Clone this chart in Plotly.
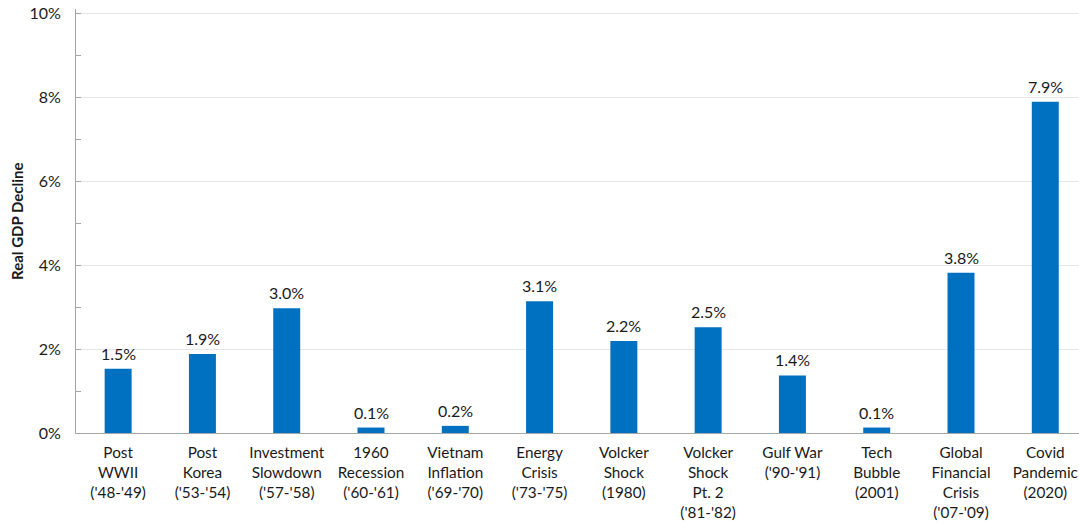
import plotly.graph_objects as go

categories = [
    "Post<br>WWII<br>('48-'49)",
    "Post<br>Korea<br>('53-'54)",
    "Investment<br>Slowdown<br>('57-'58)",
    "1960<br>Recession<br>('60-'61)",
    "Vietnam<br>Inflation<br>('69-'70)",
    "Energy<br>Crisis<br>('73-'75)",
    "Volcker<br>Shock<br>(1980)",
    "Volcker<br>Shock<br>Pt. 2<br>('81-'82)",
    "Gulf War<br>('90-'91)",
    "Tech<br>Bubble<br>(2001)",
    "Global<br>Financial<br>Crisis<br>('07-'09)",
    "Covid<br>Pandemic<br>(2020)",
]
gdp_decline = [1.53, 1.88, 2.97, 0.13, 0.17, 3.14, 2.19, 2.52, 1.37, 0.13, 3.82, 7.89]
bar_labels = ["1.5%", "1.9%", "3.0%", "0.1%", "0.2%", "3.1%",
              "2.2%", "2.5%", "1.4%", "0.1%", "3.8%", "7.9%"]
y_ticks = [0, 2, 4, 6, 8, 10]
y_tick_labels = ["0%", "2%", "4%", "6%", "8%", "10%"]

fig = go.Figure(go.Bar(
    x=categories,
    y=gdp_decline,
    marker=dict(color="#0070C0", line=dict(width=0)),
    hoverinfo="skip",
))

# value labels above the bars
for cat, val, lab in zip(categories, gdp_decline, bar_labels):
    fig.add_annotation(
        x=cat, y=val, text=lab,
        xref="x", yref="y",
        yanchor="bottom", yshift=4,
        showarrow=False,
        font=dict(size=16, color="#1a1a1a"),
    )

fig.update_layout(
    width=1079,
    height=524,
    margin=dict(l=76, r=0, t=9, b=91),
    plot_bgcolor="white",
    paper_bgcolor="white",
    bargap=0.68,
    font=dict(family="Lato", size=16, color="#1a1a1a"),
    showlegend=False,
)
fig.update_xaxes(
    range=[-0.5, 11.4],
    showline=True,
    linecolor="#a6a6a6",
    linewidth=1,
    ticks="",
    tickangle=0,
    tickfont=dict(size=15.3),
    ticklabelstandoff=6,
    automargin=False,
)
fig.update_yaxes(
    range=[0, 10.1],
    tickvals=y_ticks,
    ticktext=y_tick_labels,
    showline=True,
    linecolor="#a6a6a6",
    linewidth=1,
    showgrid=True,
    gridcolor="#e6e6e6",
    zeroline=False,
    ticks="",
    tickfont=dict(size=16),
    ticklabelstandoff=11,
    ticklabeloverflow="allow",
    minor=dict(dtick=1, ticks="inside", ticklen=5, tickcolor="#a6a6a6", showgrid=False),
    automargin=False,
)
fig.add_annotation(
    text="<b>Real GDP Decline</b>",
    xref="paper", yref="paper",
    x=0, xshift=-59, y=0.5,
    xanchor="center", yanchor="middle",
    textangle=-90,
    showarrow=False,
    font=dict(size=15),
)

# drop the default 8px body margin so the figure fills the window
fig.write_html("out.html", config={"displayModeBar": False},
               post_script="document.body.style.margin='0px';")
